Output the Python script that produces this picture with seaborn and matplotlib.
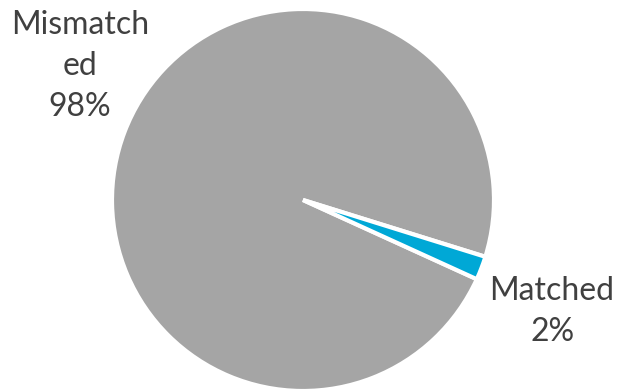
import matplotlib
matplotlib.use("Agg")
import matplotlib.pyplot as plt
import seaborn as sns

categories = ["Mismatched", "Matched"]
values = [98, 2]
label_texts = ["Mismatch\ned\n98%", "Matched\n2%"]
colors = ["#A5A5A5", "#00A8D6"]

sns.set_theme(style="white")
plt.rcParams['font.family'] = ['Lato', 'DejaVu Sans']

fig = plt.figure(figsize=(6.17, 3.89), dpi=100)
ax = fig.add_axes([0, 0, 1, 1])
ax.pie(values, colors=colors, startangle=-17.3, counterclock=True,
       wedgeprops=dict(edgecolor="white", linewidth=3.0))
ax.set_aspect("auto")
ax.set_xlim(-303/191, 314/191)
ax.set_ylim(-189/191, 200/191)
ax.axis("off")

ax.text(-1.168, 0.70, label_texts[0], ha="center", va="center", fontsize=23,
        color="#404040", linespacing=1.45)
ax.text(1.304, -0.585, label_texts[1], ha="center", va="center", fontsize=23,
        color="#404040", linespacing=1.45)

fig.savefig("out.png", dpi=100)
